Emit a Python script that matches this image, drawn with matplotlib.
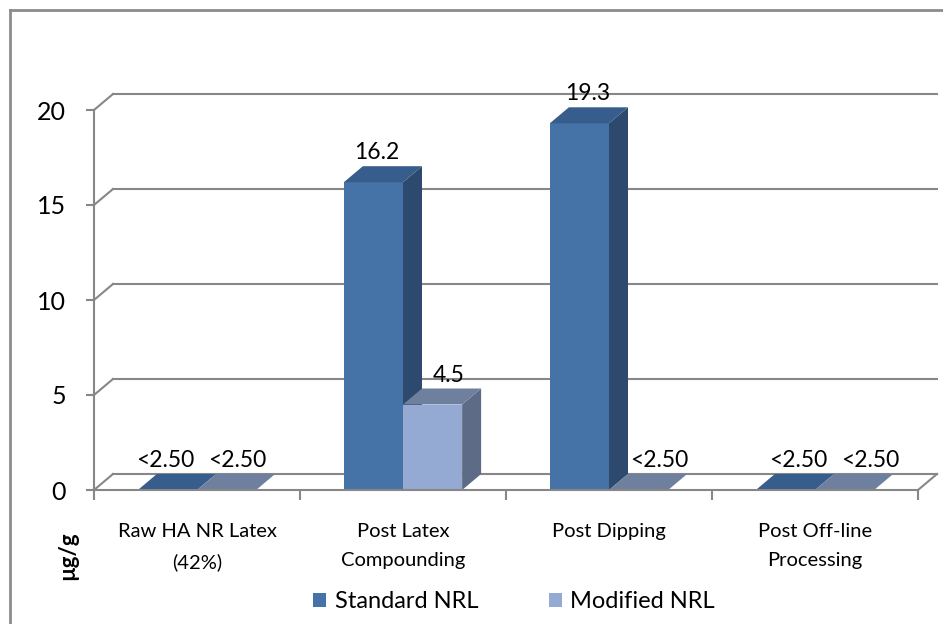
import matplotlib
matplotlib.use('Agg')
import matplotlib.pyplot as plt
from matplotlib.patches import Polygon, Patch

plt.rcParams['font.family'] = ['Lato', 'DejaVu Sans']

# data
categories = ['Raw HA NR Latex\n(42%)', 'Post Latex\nCompounding', 'Post Dipping', 'Post Off-line\nProcessing']
standard = [0.0, 16.2, 19.3, 0.0]
modified = [0.0, 4.5, 0.0, 0.0]
standard_labels = ['<2.50', '16.2', '19.3', '<2.50']
modified_labels = ['<2.50', '4.5', '<2.50', '<2.50']
series_names = ['Standard NRL', 'Modified NRL']
yticks = [0, 5, 10, 15, 20]

# colours: front, side, top
std_cols = ('#4572A7', '#2D4A6E', '#365D8C')
mod_cols = ('#95AAD2', '#5E6B86', '#6F809F')
grid_col = '#878787'

fig = plt.figure(figsize=(9.43, 6.24), dpi=100)
ax = fig.add_axes([94/943, 134/624, 824/943, 380/624])
ax.set_xlim(-0.5, 3.5)
ax.set_ylim(0, 20)

# depth offset (data units)
dx = 19/206
dy = 16/19
bw = 0.287
px = 1/206  # one pixel in x data units


def bar3d(x0, v, cols):
    x1 = x0 + bw
    front, side, top = cols
    if v > 0:
        ax.add_patch(Polygon([(x0, 0), (x1, 0), (x1, v), (x0, v)], closed=True,
                             facecolor=front, edgecolor='none', clip_on=False, zorder=3))
        ax.add_patch(Polygon([(x1, 0), (x1+dx, dy), (x1+dx, v+dy), (x1, v)], closed=True,
                             facecolor=side, edgecolor='none', clip_on=False, zorder=3))
    ax.add_patch(Polygon([(x0, v), (x0+dx, v+dy), (x1+dx, v+dy), (x1, v)], closed=True,
                         facecolor=top, edgecolor='none', clip_on=False, zorder=3))


# back wall gridlines + left wall diagonals
for v in yticks:
    ax.plot([-0.5+dx, 3.5+dx], [v+dy, v+dy], color=grid_col, lw=1.5, clip_on=False, zorder=1)
    ax.plot([-0.5, -0.5+dx], [v, v+dy], color=grid_col, lw=1.5, clip_on=False, zorder=1)
# floor right edge
ax.plot([3.5, 3.5+dx], [0, dy], color=grid_col, lw=1.5, clip_on=False, zorder=1)

for i in range(len(categories)):
    bar3d(i - bw, standard[i], std_cols)
    bar3d(i, modified[i], mod_cols)
    # label shift follows the chart's perspective
    ax.text(i - bw/2 + (-2 + 5*i)*px, standard[i] + dy + 0.15, standard_labels[i],
            ha='center', va='bottom', fontsize=16.5, zorder=5)
    ax.text(i + bw/2 + (11 + 5*i)*px, modified[i] + dy + 0.15, modified_labels[i],
            ha='center', va='bottom', fontsize=16.5, zorder=5)

# axes styling
for s in ['top', 'right']:
    ax.spines[s].set_visible(False)
for s in ['left', 'bottom']:
    ax.spines[s].set_color(grid_col)
    ax.spines[s].set_linewidth(1.5)
    ax.spines[s].set_zorder(4)
ax.set_facecolor('none')
ax.set_yticks(yticks)
ax.tick_params(axis='y', length=6, width=1.5, color=grid_col, labelsize=18, pad=14)
ax.set_xticks([-0.5, 0.5, 1.5, 2.5, 3.5])
ax.set_xticklabels([])
ax.tick_params(axis='x', length=7, width=1.5, color=grid_col)
ax.set_xticks(range(len(categories)), minor=True)
ax.set_xticklabels(categories, minor=True, fontsize=14.5, linespacing=1.85)
ax.tick_params(axis='x', which='minor', length=0, pad=24)

fig.text(68/943, 1 - 556/624, 'µg/g', rotation=90, ha='center', va='center',
         fontsize=16, fontweight='bold')

handles = [Patch(facecolor=std_cols[0]), Patch(facecolor=mod_cols[0])]
fig.legend(handles, series_names, loc='center', bbox_to_anchor=(514/943, 1 - 602/624),
           ncol=2, frameon=False, fontsize=17, handlelength=0.55, handleheight=0.55,
           handletextpad=0.35, columnspacing=3.0)

# outer frame (top and left edges)
fig.add_artist(plt.Line2D([10/943, 1], [1 - 10/624, 1 - 10/624], color='#8C8C8C', lw=2,
                          transform=fig.transFigure))
fig.add_artist(plt.Line2D([10/943, 10/943], [0, 1 - 10/624], color='#8C8C8C', lw=2,
                          transform=fig.transFigure))

fig.savefig('out.png', dpi=100)
